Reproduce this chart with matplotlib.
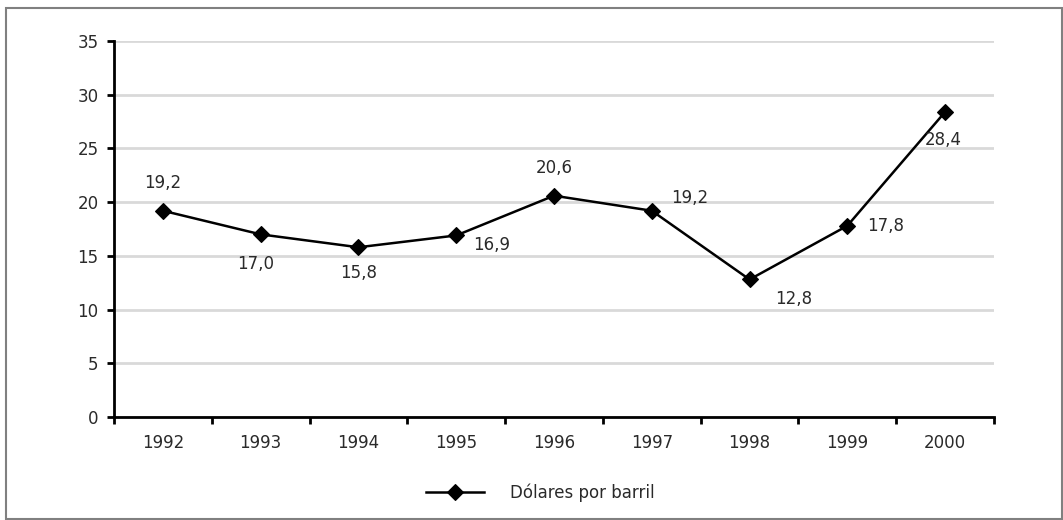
import matplotlib
matplotlib.use("Agg")
import matplotlib.pyplot as plt
from matplotlib.patches import Rectangle

years = ["1992", "1993", "1994", "1995", "1996", "1997", "1998", "1999", "2000"]
prices = [19.2, 17.0, 15.8, 16.9, 20.6, 19.2, 12.8, 17.8, 28.4]
series_name = "Dólares por barril"
y_ticks = [0, 5, 10, 15, 20, 25, 30, 35]

# label offsets in pixels (dx right, dy up) -- styling only
label_offsets_px = [(0, 28), (-5, -30), (0, -26), (35, -10), (0, 28),
                    (38, 13), (44, -20), (38, 0), (-2, -28)]

W, H = 1063, 520
DPI = 100
fig = plt.figure(figsize=(W / DPI, H / DPI), dpi=DPI)
plt.rcParams['font.family'] = ['DejaVu Sans']
txt_color = '#2a2a2a'

ax_l, ax_r, ax_t, ax_b = 114, 994, 41, 417
ax = fig.add_axes([ax_l / W, 1 - ax_b / H, (ax_r - ax_l) / W, (ax_b - ax_t) / H])

x = list(range(len(years)))
ax.plot(x, prices, color='black', lw=1.8, marker='D', ms=8.5,
        mfc='black', mec='black', mew=0.8, zorder=3, label=series_name)

for xi, v, (dx, dy) in zip(x, prices, label_offsets_px):
    ax.annotate(f"{v:.1f}".replace('.', ','), (xi, v),
                xytext=(dx * 72 / DPI, dy * 72 / DPI), textcoords='offset points',
                ha='center', va='center', fontsize=12, color=txt_color, zorder=4)

ax.set_xlim(-0.5, len(years) - 0.5)
ax.set_ylim(0, 35)
ax.set_yticks(y_ticks)
ax.set_yticklabels([str(t) for t in y_ticks], fontsize=12, color=txt_color)
ax.yaxis.grid(True, color='#d9d9d9', lw=2)
ax.set_axisbelow(True)

ax.set_xticks(x)
ax.set_xticklabels(years, fontsize=12, color=txt_color)
ax.tick_params(axis='x', length=0, pad=12)
ax.set_xticks([i - 0.5 for i in range(len(years) + 1)], minor=True)
ax.tick_params(axis='x', which='minor', length=5, width=2, color='black', direction='out')
ax.tick_params(axis='y', length=5, width=2, color='black', direction='out', pad=6)

for s in ['top', 'right']:
    ax.spines[s].set_visible(False)
for s in ['left', 'bottom']:
    ax.spines[s].set_linewidth(2)
    ax.spines[s].set_color('black')

leg = fig.legend(loc='center', bbox_to_anchor=(540 / W, 1 - 493 / H),
                 frameon=False, fontsize=12, handlelength=3.5, handletextpad=1.55)
for t in leg.get_texts():
    t.set_color(txt_color)

fig.patches.append(Rectangle((6 / W, 1 / H), 1056 / W, 511 / H,
                             transform=fig.transFigure, fill=False,
                             edgecolor='#808080', lw=1.5))

fig.savefig('out.png', dpi=DPI)
